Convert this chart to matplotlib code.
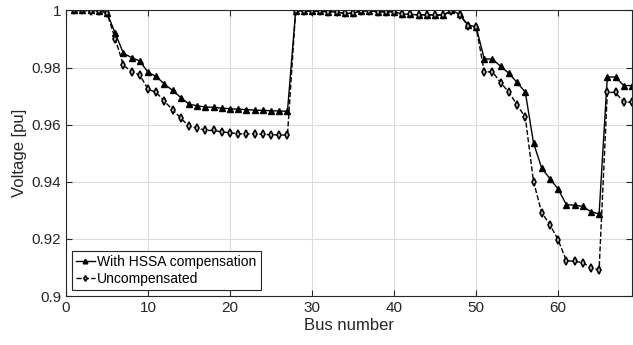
import numpy as np
import matplotlib
matplotlib.use('Agg')
import matplotlib.pyplot as plt
from matplotlib.ticker import FormatStrFormatter

# bus numbers 1..69
bus = np.arange(1, 70)

# uncompensated voltage profile (pu)
v_uncomp = [1.0000, 1.0000, 0.9999, 0.9998, 0.9990, 0.9901, 0.9808, 0.9786, 0.9774, 0.9724,
            0.9713, 0.9682, 0.9652, 0.9623, 0.9594, 0.9589, 0.9580, 0.9580, 0.9575, 0.9572,
            0.9568, 0.9568, 0.9567, 0.9566, 0.9565, 0.9564, 0.9564, 0.9999, 0.9999, 0.9997,
            0.9997, 0.9996, 0.9994, 0.9990, 0.9990, 0.9999, 0.9998, 0.9996, 0.9995, 0.9995,
            0.9988, 0.9986, 0.9985, 0.9985, 0.9984, 0.9984, 0.9998, 0.9985, 0.9947, 0.9942,
            0.9785, 0.9785, 0.9747, 0.9714, 0.9669, 0.9626, 0.9401, 0.9292, 0.9250, 0.9197,
            0.9124, 0.9121, 0.9117, 0.9099, 0.9092, 0.9713, 0.9713, 0.9679, 0.9679]

# with HSSA compensation (pu)
v_hssa = [1.0000, 1.0000, 1.0000, 0.9999, 0.9992, 0.9920, 0.9850, 0.9835, 0.9823, 0.9783,
          0.9769, 0.9742, 0.9720, 0.9695, 0.9672, 0.9666, 0.9662, 0.9661, 0.9658, 0.9656,
          0.9654, 0.9653, 0.9651, 0.9650, 0.9649, 0.9648, 0.9647, 0.9999, 0.9999, 0.9997,
          0.9997, 0.9996, 0.9994, 0.9990, 0.9990, 0.9999, 0.9998, 0.9996, 0.9995, 0.9995,
          0.9988, 0.9986, 0.9985, 0.9985, 0.9984, 0.9984, 1.0000, 0.9987, 0.9949, 0.9943,
          0.9830, 0.9830, 0.9804, 0.9780, 0.9748, 0.9714, 0.9536, 0.9448, 0.9411, 0.9375,
          0.9320, 0.9318, 0.9314, 0.9295, 0.9288, 0.9767, 0.9767, 0.9737, 0.9737]

plt.rcParams['font.family'] = ['Liberation Sans', 'DejaVu Sans']

fig = plt.figure(figsize=(6.33, 3.45), dpi=100)
ax = fig.add_axes([0.1043, 0.142, 0.894, 0.8276])

ax.plot(bus, v_hssa, '-', color='black', lw=1.0, marker='^', markersize=4.8,
        mfc='black', mec='black', label='With HSSA compensation')
ax.plot(bus, v_uncomp, '--', color='black', lw=1.0, marker='d', markersize=4.0,
        mfc='#cccccc', mec='black', mew=1.2, label='Uncompensated')

ax.set_xlim(0, 69)
ax.set_ylim(0.9, 1.0)
ax.set_xticks(np.arange(0, 70, 10))
ax.set_yticks(np.arange(0.9, 1.001, 0.02))
ax.yaxis.set_major_formatter(FormatStrFormatter('%g'))

ax.grid(True, color='#dcdcdc', lw=0.8)
ax.set_axisbelow(True)
ax.tick_params(direction='in', top=True, right=True, labelsize=11, length=4,
               colors='#262626', labelcolor='#262626')
for s in ax.spines.values():
    s.set_color('#262626')
    s.set_linewidth(0.8)

ax.set_xlabel('Bus number', fontsize=12, color='#262626', labelpad=2)
ax.set_ylabel('Voltage [pu]', fontsize=12, color='#262626', labelpad=3)

leg = ax.legend(loc='lower left', fontsize=10, handlelength=1.4, handletextpad=0.15,
                borderpad=0.3, labelspacing=0.25, fancybox=False, framealpha=1,
                borderaxespad=0.4, markerscale=0.7)
leg.get_frame().set_edgecolor('#262626')
leg.get_frame().set_linewidth(0.8)

plt.savefig('out.png', dpi=100, facecolor='white')
